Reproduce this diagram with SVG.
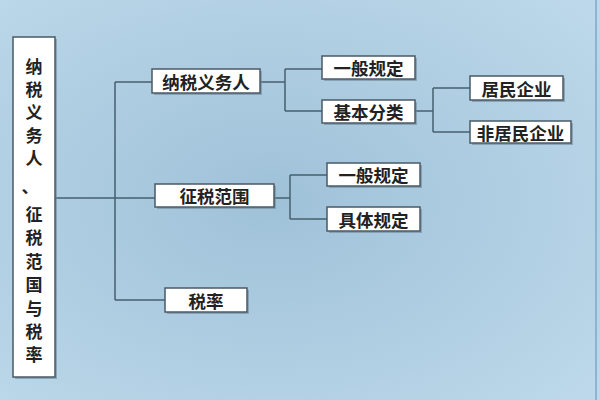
<svg xmlns="http://www.w3.org/2000/svg" width="600" height="400" viewBox="0 0 600 400">
<defs>
<radialGradient id="bg" cx="0.45" cy="0.5" r="0.7">
<stop offset="0" stop-color="#9fc1d8"/>
<stop offset="1" stop-color="#bcd8ea"/>
</radialGradient>
<style>
.box{fill:#ffffff;stroke:#4a5a66;stroke-width:1.5}
.sh{fill:#6f8797;opacity:0.6}
.t{font-family:"Noto Sans CJK SC","Noto Sans CJK JP",sans-serif;font-size:17.5px;font-weight:bold;fill:#222222;text-anchor:middle;dominant-baseline:central}
.v{font-family:"Noto Sans CJK SC","Noto Sans CJK JP",sans-serif;font-size:17px;font-weight:bold;fill:#222222;text-anchor:middle;dominant-baseline:central}
.c{fill:none;stroke:#46606f;stroke-width:1.5}
</style>
</defs>
<rect x="0" y="0" width="600" height="400" fill="url(#bg)"/>
<rect x="595" y="0" width="2" height="400" fill="#8cb3cf"/>
<g id="connectors">
<path class="c" d="M55 198H115M115 82V300M115 82H152M115 198H155M115 300H165"/>
<path class="c" d="M260 82H285M285 69V111M285 69H322M285 111H322"/>
<path class="c" d="M415 111H433M433 88V132M433 88H470M433 132H470"/>
<path class="c" d="M274 198H290M290 175V219M290 175H327M290 219H327"/>
</g>
<g id="root">
<rect class="sh" x="15" y="39" width="42" height="340"/>
<rect class="box" x="13" y="37" width="42" height="340"/>
<text class="v" x="34" y="65">纳</text>
<text class="v" x="34" y="88">税</text>
<text class="v" x="34" y="111">义</text>
<text class="v" x="34" y="134">务</text>
<text class="v" x="34" y="157">人</text>
<text class="v" x="30" y="185">、</text>
<text class="v" x="34" y="213">征</text>
<text class="v" x="34" y="236">税</text>
<text class="v" x="34" y="260">范</text>
<text class="v" x="34" y="283">国</text>
<text class="v" x="34" y="307">与</text>
<text class="v" x="34" y="330">税</text>
<text class="v" x="34" y="353">率</text>
</g>
<g id="n1">
<rect class="sh" x="154" y="71" width="108" height="24"/>
<rect class="box" x="152" y="69" width="108" height="24"/>
<text class="t" x="206" y="81">纳税义务人</text>
</g>
<g id="n11">
<rect class="sh" x="324" y="58" width="93" height="23"/>
<rect class="box" x="322" y="56" width="93" height="23"/>
<text class="t" x="368.5" y="67.5">一般规定</text>
</g>
<g id="n12">
<rect class="sh" x="324" y="102" width="93" height="23"/>
<rect class="box" x="322" y="100" width="93" height="23"/>
<text class="t" x="368.5" y="111.5">基本分类</text>
</g>
<g id="n121">
<rect class="sh" x="472" y="78" width="93" height="24"/>
<rect class="box" x="470" y="76" width="93" height="24"/>
<text class="t" x="516.5" y="88">居民企业</text>
</g>
<g id="n122">
<rect class="sh" x="472" y="123" width="101" height="22"/>
<rect class="box" x="470" y="121" width="101" height="22"/>
<text class="t" x="520.5" y="132">非居民企业</text>
</g>
<g id="n2">
<rect class="sh" x="157" y="186" width="119" height="23"/>
<rect class="box" x="155" y="184" width="119" height="23"/>
<text class="t" x="214.5" y="195.5">征税范围</text>
</g>
<g id="n21">
<rect class="sh" x="329" y="165" width="93" height="23"/>
<rect class="box" x="327" y="163" width="93" height="23"/>
<text class="t" x="373.5" y="174.5">一般规定</text>
</g>
<g id="n22">
<rect class="sh" x="329" y="209" width="93" height="24"/>
<rect class="box" x="327" y="207" width="93" height="24"/>
<text class="t" x="373.5" y="219">具体规定</text>
</g>
<g id="n3">
<rect class="sh" x="167" y="290" width="82" height="24"/>
<rect class="box" x="165" y="288" width="82" height="24"/>
<text class="t" x="206" y="300">税率</text>
</g>
</svg>
